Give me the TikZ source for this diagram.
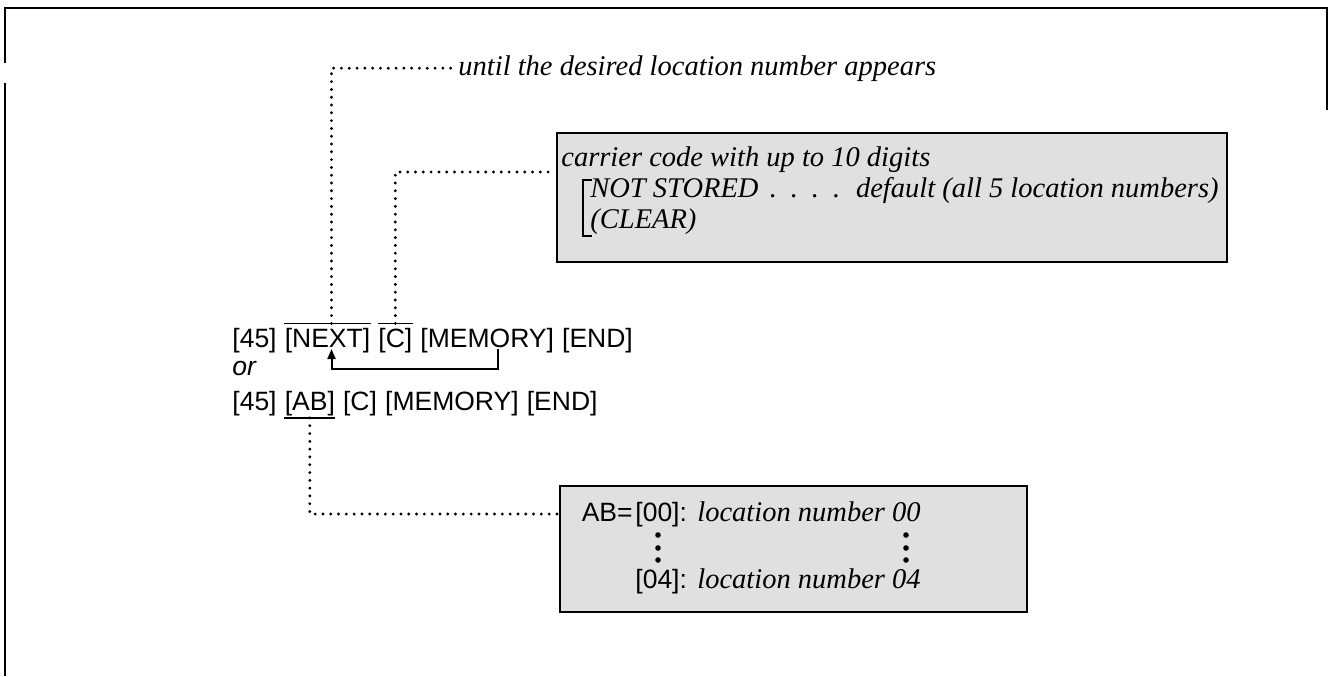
\documentclass[tikz,border=0pt]{standalone}
\usepackage{fontspec}
\setsansfont{Liberation Sans}
\newfontfamily\itserif{Liberation Serif}
\usetikzlibrary{arrows.meta,calc}
\begin{document}
\begin{tikzpicture}[x=0.5pt,y=-0.5pt,
  tok/.style={font=\sffamily\fontsize{13.25}{15}\selectfont, inner sep=0pt, anchor=base west},
  itl/.style={font=\itserif\itshape\fontsize{14.25}{16}\selectfont, inner sep=0pt, anchor=base west},
  dotline/.style={line width=1.6pt, dash pattern=on 0pt off 3.9pt, line cap=round},
  shaded/.style={draw=black, line width=1.3pt, fill=black!12, inner sep=0pt},
  frame/.style={line width=1pt},
  bar/.style={line width=0.8pt},
  bigdot/.style={circle, fill=black, inner sep=0pt, minimum size=2.8pt},
  loopline/.style={line width=1pt, -{Triangle[length=5pt,width=4pt]}}
]
\useasboundingbox (0,0) rectangle (1329,676);
% outer frame
\draw[frame] (5,676) -- (5,83);
\draw[frame] (5,63) -- (5,8) -- (1327,8) -- (1327,110);

% shaded boxes
\node[shaded, minimum width=335pt, minimum height=64.5pt] (box1) at (892,197.5) {};
\node[shaded, minimum width=233.5pt, minimum height=63pt] (box2) at (793.5,549) {};

% line 1
\node[tok] (n45) at (232,347) {[45]};
\node[tok] (nNext) at ([xshift=3.7pt]n45.base east) {[NEXT]};
\node[tok] (nC) at ([xshift=3.7pt]nNext.base east) {[C]};
\node[tok] (nMem) at ([xshift=3.7pt]nC.base east) {[MEMORY]};
\node[tok] (nEnd) at ([xshift=3.7pt]nMem.base east) {[END]};
\draw[bar] ([yshift=2pt]nNext.north west) -- ([yshift=2pt]nNext.north east);
\draw[bar] ([yshift=2pt]nC.north west) -- ([yshift=2pt]nC.north east);

\node[tok, font=\sffamily\itshape\fontsize{13.25}{15}\selectfont] (nOr) at (232,375) {or};

% line 3
\node[tok] (m45) at (232,410) {[45]};
\node[tok] (mAB) at ([xshift=3.7pt]m45.base east) {[AB]};
\node[tok] (mC) at ([xshift=3.7pt]mAB.base east) {[C]};
\node[tok] (mMem) at ([xshift=3.7pt]mC.base east) {[MEMORY]};
\node[tok] (mEnd) at ([xshift=3.7pt]mMem.base east) {[END]};
\draw[bar] ([yshift=-1pt]mAB.south west) -- ([yshift=-1pt]mAB.south east);

% loop arrow
\draw[loopline] ([xshift=39pt,yshift=-1pt]nMem.base west) -- ++(0,-10pt) -| ([xshift=2pt,yshift=-1pt]nNext.base);

% top annotation
\node[itl] (until) at (458,75) {until the desired location number appears};
\draw[dotline] ([xshift=2pt,yshift=2pt]nNext.north) |- ([xshift=-2pt]until.west);

% box 1 content
\node[itl] (carrier) at (561,166) {carrier code with up to 10 digits};
\node[itl] (notst) at (590,197) {NOT STORED};
\node[itl, anchor=base] (ndots) at (805,197) {.\hspace{7pt}.\hspace{7pt}.\hspace{7pt}.};
\node[itl, anchor=base east] (dflt) at (1219,197) {default (all 5 location numbers)};
\node[itl] (clear) at (590,228) {(CLEAR)};
\draw[line width=1.3pt] (592,180) -- (583,180) -- (583,236) -- (592,236);
\coordinate (y172) at (0,172);
\coordinate (b1in) at (box1.west |- y172);
\draw[dotline] ([yshift=2pt]nC.north) |- (b1in);

% box 2 content
\node[tok] (n00) at (635,521) {[00]:};
\node[tok, anchor=base east] (nAB) at ([xshift=-1pt]n00.base west) {AB=};
\node[itl] (loc00) at (697,521) {location number 00};
\node[tok] (n04) at (635,588) {[04]:};
\node[itl] (loc04) at (697,588) {location number 04};
\foreach \y [count=\i] in {535,548,560} {
  \node[bigdot] (dl\i) at (658,\y) {};
  \node[bigdot] (dr\i) at (906,\y) {};
}
\coordinate (b2in) at ([yshift=3.5pt]box2.west |- nAB.base);
\draw[dotline] ([yshift=-1pt]mAB.south) |- (b2in);
\end{tikzpicture}
\end{document}
